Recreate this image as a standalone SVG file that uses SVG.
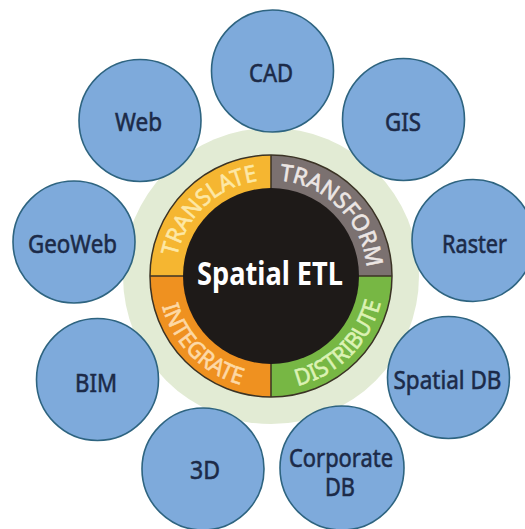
<svg xmlns="http://www.w3.org/2000/svg" width="525" height="529" viewBox="0 0 525 529">
<style>
.node circle{fill:#7eaadb;stroke:#2e6480;stroke-width:1.6}
.node text{font-family:"Noto Sans","Liberation Sans",sans-serif;font-size:26px;fill:#1c2a48;stroke:#1c2a48;stroke-width:0.6;text-anchor:middle}
.ring{font-family:"Noto Sans","Liberation Sans",sans-serif;font-size:23px;text-anchor:middle;stroke-width:0.6}
</style>
<defs>
<path id="aTL" d="M175,276 A96,96 0 0 1 271,180"/>
<path id="aTR" d="M271,180 A96,96 0 0 1 367,276"/>
<path id="aBR" d="M271,389 A113,113 0 0 0 384,276"/>
<path id="aBL" d="M158,276 A113,113 0 0 0 271,389"/>
</defs>
<rect width="525" height="529" fill="#ffffff"/>
<g id="hub">
<circle cx="271" cy="276" r="148" fill="#e2ebd4"/>
<path d="M271,276 L150,276 A121,121 0 0 1 271,155 Z" fill="#f5b631"/>
<path d="M271,276 L271,155 A121,121 0 0 1 392,276 Z" fill="#7b7170"/>
<path d="M271,276 L392,276 A121,121 0 0 1 271,397 Z" fill="#77b744"/>
<path d="M271,276 L271,397 A121,121 0 0 1 150,276 Z" fill="#ef9120"/>
<circle cx="271" cy="276" r="121" fill="none" stroke="#3b3325" stroke-width="1.5"/>
<line x1="150" y1="276" x2="392" y2="276" stroke="#3b3325" stroke-width="1.5"/>
<line x1="271" y1="155" x2="271" y2="397" stroke="#3b3325" stroke-width="1.5"/>
<circle cx="271" cy="276" r="88" fill="#1e1a18"/>
<text class="ring" fill="#fde8a6" stroke="#fde8a6"><textPath href="#aTL" startOffset="52%" textLength="118" lengthAdjust="spacingAndGlyphs">TRANSLATE</textPath></text>
<text class="ring" fill="#ece6e4" stroke="#ece6e4"><textPath href="#aTR" startOffset="50%" textLength="134" lengthAdjust="spacingAndGlyphs">TRANSFORM</textPath></text>
<text class="ring" fill="#dcf2b4" stroke="#dcf2b4"><textPath href="#aBR" startOffset="50%" textLength="124" lengthAdjust="spacingAndGlyphs">DISTRIBUTE</textPath></text>
<text class="ring" fill="#fdd9a6" stroke="#fdd9a6"><textPath href="#aBL" startOffset="50%" textLength="116" lengthAdjust="spacingAndGlyphs">INTEGRATE</textPath></text>
<text x="270" y="285" font-family="Noto Sans,Liberation Sans,sans-serif" font-size="32" font-weight="bold" fill="#ffffff" text-anchor="middle" textLength="146" lengthAdjust="spacingAndGlyphs">Spatial ETL</text>
</g>
<g id="connectors"></g>
<g id="n-cad" class="node"><circle cx="272.5" cy="71" r="61"/><text x="271" y="82" textLength="44" lengthAdjust="spacingAndGlyphs">CAD</text></g>
<g id="n-web" class="node"><circle cx="140" cy="120.5" r="61"/><text x="138.5" y="131" textLength="47" lengthAdjust="spacingAndGlyphs">Web</text></g>
<g id="n-gis" class="node"><circle cx="403.5" cy="119.5" r="61"/><text x="403" y="131" textLength="36" lengthAdjust="spacingAndGlyphs">GIS</text></g>
<g id="n-geoweb" class="node"><circle cx="74" cy="242" r="61"/><text x="72.5" y="253" textLength="89" lengthAdjust="spacingAndGlyphs">GeoWeb</text></g>
<g id="n-raster" class="node"><circle cx="473" cy="240.5" r="61"/><text x="474.5" y="253" textLength="65" lengthAdjust="spacingAndGlyphs">Raster</text></g>
<g id="n-bim" class="node"><circle cx="97.5" cy="379.5" r="61"/><text x="96" y="392" textLength="42" lengthAdjust="spacingAndGlyphs">BIM</text></g>
<g id="n-spatialdb" class="node"><circle cx="448.5" cy="377.5" r="61"/><text x="447.5" y="389" textLength="108" lengthAdjust="spacingAndGlyphs">Spatial DB</text></g>
<g id="n-3d" class="node"><circle cx="203" cy="469" r="61"/><text x="205" y="479" textLength="30" lengthAdjust="spacingAndGlyphs">3D</text></g>
<g id="n-corpdb" class="node"><circle cx="342" cy="468" r="62"/><text x="341" y="467" textLength="104" lengthAdjust="spacingAndGlyphs">Corporate</text><text x="340" y="496" textLength="30" lengthAdjust="spacingAndGlyphs">DB</text></g>
</svg>
